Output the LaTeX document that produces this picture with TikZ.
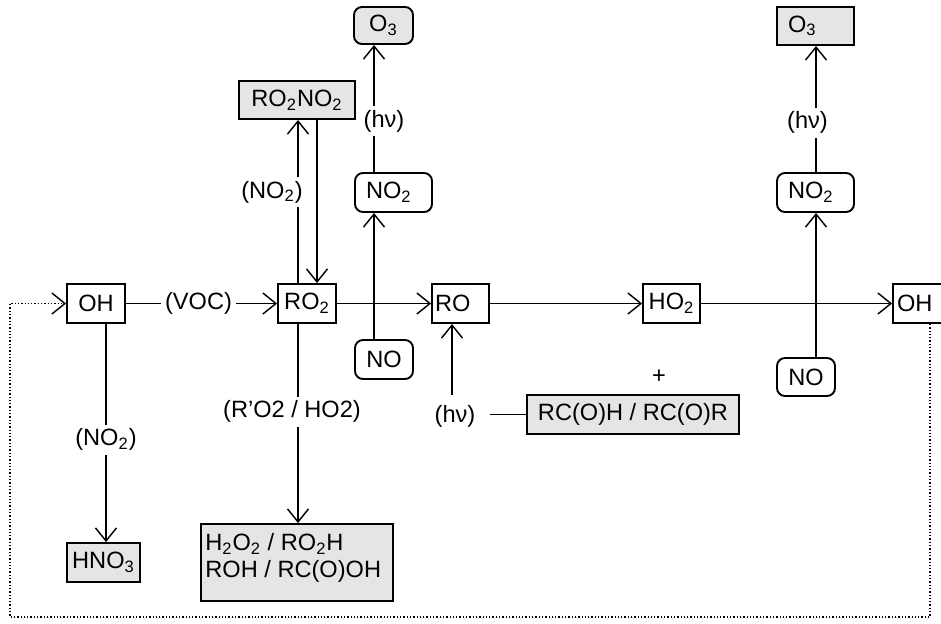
\documentclass[tikz,border=0pt]{standalone}
\usepackage{fontspec}
\setmainfont{Liberation Sans}
\usetikzlibrary{arrows.meta}
\newcommand{\sbs}[1]{\textsubscript{#1}}
\begin{document}
\begin{tikzpicture}[x=0.5pt,y=-0.5pt,
  font=\fontsize{11.8pt}{13.5pt}\selectfont,
  every node/.style={inner sep=0pt},
  bx/.style={draw, line width=0.95pt, minimum height=19.5pt, fill=white},
  gbx/.style={bx, fill=gray!20},
  rbx/.style={bx, rounded corners=4pt},
  lab/.style={fill=white, inner sep=2pt},
  con/.style={line width=0.72pt},
  tip/.style={-{Straight Barb[length=6.5pt,width=10.5pt,line width=0.72pt]}},
  arr/.style={con, tip},
  lb/.style 2 args={text width=#1, inner xsep=#2, align=left}
]
\useasboundingbox (0,0) rectangle (941,623);
\clip (0,0) rectangle (941,623);

% x positions of vertical connectors
\coordinate (xa) at (298,0);
\coordinate (xr) at (317,0);
\coordinate (xb) at (374,0);
\coordinate (xc) at (452,0);
\coordinate (xd) at (816,0);
\coordinate (xe) at (106,0);
\coordinate (xf) at (930,0);
\coordinate (bl) at (10,617);

% boxes
\node[bx, minimum width=29pt] (ohL) at (96,303.5) {OH};
\node[bx, minimum width=29pt] (ro2) at (307,303.5) {RO\sbs{2}};
\node[bx, lb={25.5pt}{1.5pt}] (ro) at (460.5,303.5) {RO};
\node[bx, minimum width=28.5pt] (ho2) at (671.5,303.5) {HO\sbs{2}};
\node[bx, lb={25pt}{2pt}] (ohR) at (922,303.5) {OH};
\node[gbx, minimum width=58pt, minimum height=19pt] (ro2no2) at (297,100) {RO\sbs{2}NO\sbs{2}};
\node[gbx, rounded corners=4pt, minimum width=29.5pt, minimum height=18.5pt] (o3L) at (383.5,25.5) {O\sbs{3}};
\node[rbx, lb={27.5pt}{5.5pt}] (no2L) at (393.5,192.5) {NO\sbs{2}};
\node[rbx, minimum width=29pt] (noL) at (384,359.5) {NO};
\node[gbx, minimum width=106pt] (rc) at (633,414.5) {RC(O)H / RC(O)R};
\node[rbx, lb={27.5pt}{5.5pt}] (no2R) at (815.5,192.5) {NO\sbs{2}};
\node[rbx, minimum width=29pt, minimum height=19pt] (noR) at (806,377) {NO};
\node[gbx, lb={27.5pt}{5.5pt}, minimum height=19pt] (o3R) at (815.5,26) {O\sbs{3}};
\node[gbx, minimum width=36.5pt] (hno3) at (103.5,562.5) {HNO\sbs{3}};
\node[gbx, minimum width=96pt, minimum height=38.5pt] (prod) at (297,562.5) {};
\node[anchor=north west, align=left] (prodtxt) at (205,533) {H\sbs{2}O\sbs{2} / RO\sbs{2}H\\ROH / RC(O)OH};
\node (plus) at (659,377) {+};
\node[lab] (hnu2) at (455,416.5) {(hν)};

% main chain
\draw[arr] (ohL) -- node[lab, xshift=-1.5pt] (voc) {(VOC)} (ro2);
\draw[arr] (ro2) -- (ro);
\draw[arr] (ro) -- (ho2);
\draw[arr] (ho2) -- (ohR);

% RO2 <-> RO2NO2
\draw[arr] (ro2.north -| xa) -- (ro2no2.south -| xa);
\draw[arr] (ro2no2.south -| xr) -- (ro2.north -| xr);
\node[lab] (no2a) at (272,192) {(NO\sbs{2})};

% NO -> NO2 -> O3 (left)
\draw[arr] (noL.north -| xb) -- (no2L.south -| xb);
\draw[arr] (no2L.north -| xb) -- node[lab, pos=0.4, xshift=5pt] (hnu1) {(hν)} (o3L.south -| xb);

% photolysis to RO
\draw[arr, shorten <=3pt] (hnu2.north -| xc) -- (ro.south -| xc);
\draw[con, shorten >=5pt] (rc.west) -- (rc.west -| hnu2.east);

% NO -> NO2 -> O3 (right)
\draw[arr] (noR.north -| xd) -- (no2R.south -| xd);
\draw[arr] (no2R.north -| xd) -- node[lab, pos=0.39, xshift=-4.25pt] (hnu3) {(hν)} (o3R.south -| xd);

% sinks
\draw[arr] (ohL.south -| xe) -- node[lab, pos=0.53] (no2b) {(NO\sbs{2})} (hno3.north -| xe);
\draw[arr] (ro2.south -| xa) -- node[lab, pos=0.44, xshift=-3pt] (rlab) {(R’O2 / HO2)} (prod.north -| xa);

% recycling loop
\draw[line width=0.65pt, densely dotted, tip] (ohR.south -| xf) |- (bl) |- (ohL.west);
\end{tikzpicture}
\end{document}
